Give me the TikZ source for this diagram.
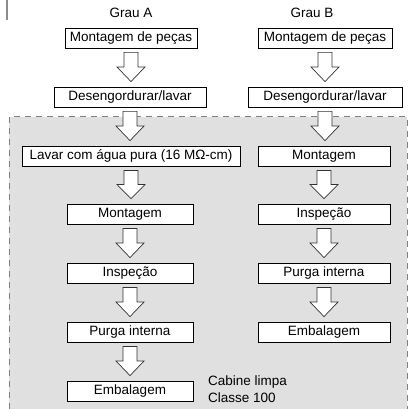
\documentclass[tikz,border=0pt]{standalone}
\usepackage{fontspec}
\setmainfont{Liberation Sans}
\usetikzlibrary{calc}
\tikzset{
  box/.style={draw=black, line width=0.8pt, fill=white, minimum height=20pt, inner sep=0pt, font=\fontsize{13.5}{15}\selectfont},
  lbl/.style={font=\fontsize{13.5}{15}\selectfont, inner sep=0pt},
  barrowstyle/.style={draw=black!80, line width=0.7pt, fill=white, line join=miter},
  zone/.style={fill=black!12},
  zoneborder/.style={draw=black!50, line width=1pt, dash pattern=on 6pt off 5pt},
}
\newcommand\blockarrow[2]{%
  \draw[barrowstyle] let \p1=(#1.south), \p2=(#2.north),
    \n1={\y1-4pt}, \n2={\y2+5pt}, \n3={(\n1+\n2)/2} in
    (\x1-7pt,\n1) -- (\x1+7pt,\n1) -- (\x1+7pt,\n3) -- (\x1+14pt,\n3)
    -- (\x1,\n2) -- (\x1-14pt,\n3) -- (\x1-7pt,\n3) -- cycle;}
\begin{document}
\begin{tikzpicture}[x=1pt,y=-1pt]
\useasboundingbox (0,0) rectangle (412,409);
% clean room zone
\fill[zone] (9,117) rectangle (407,409);
\draw[zoneborder] (9,409) -- (9,117) -- (407,117) -- (407,409);
% left marker line
\draw[black!45, line width=1.3pt] (7,0) -- (7,20);
% headers
\node[lbl] (ga) at (131,13) {Grau A};
\node[lbl] (gb) at (312,13) {Grau B};
% column A
\node[box, minimum width=132pt] (a0) at (131,38) {Montagem de peças};
\node[box, minimum width=152pt] (a1) at (130,97) {Desengordurar/lavar};
\node[box, minimum width=218pt] (a2) at (131,156) {Lavar com água pura (16 MΩ-cm)};
\node[box, minimum width=126pt] (a3) at (130,214) {Montagem};
\node[box, minimum width=126pt] (a4) at (130,273) {Inspeção};
\node[box, minimum width=126pt] (a5) at (130,332) {Purga interna};
\node[box, minimum width=126pt] (a6) at (130,391) {Embalagem};
% column B
\node[box, minimum width=134pt] (b0) at (325,38) {Montagem de peças};
\node[box, minimum width=154pt] (b1) at (325,97) {Desengordurar/lavar};
\node[box, minimum width=132pt] (b2) at (324,156) {Montagem};
\node[box, minimum width=132pt] (b3) at (324,214) {Inspeção};
\node[box, minimum width=132pt] (b4) at (324,273) {Purga interna};
\node[box, minimum width=132pt] (b5) at (324,332) {Embalagem};
% note
\node[lbl, anchor=west, align=left] (note) at (208,389) {Cabine limpa\\[2pt]Classe 100};
% arrows
\blockarrow{a0}{a1}
\blockarrow{a1}{a2}
\blockarrow{a2}{a3}
\blockarrow{a3}{a4}
\blockarrow{a4}{a5}
\blockarrow{a5}{a6}
\blockarrow{b0}{b1}
\blockarrow{b1}{b2}
\blockarrow{b2}{b3}
\blockarrow{b3}{b4}
\blockarrow{b4}{b5}
\end{tikzpicture}
\end{document}
